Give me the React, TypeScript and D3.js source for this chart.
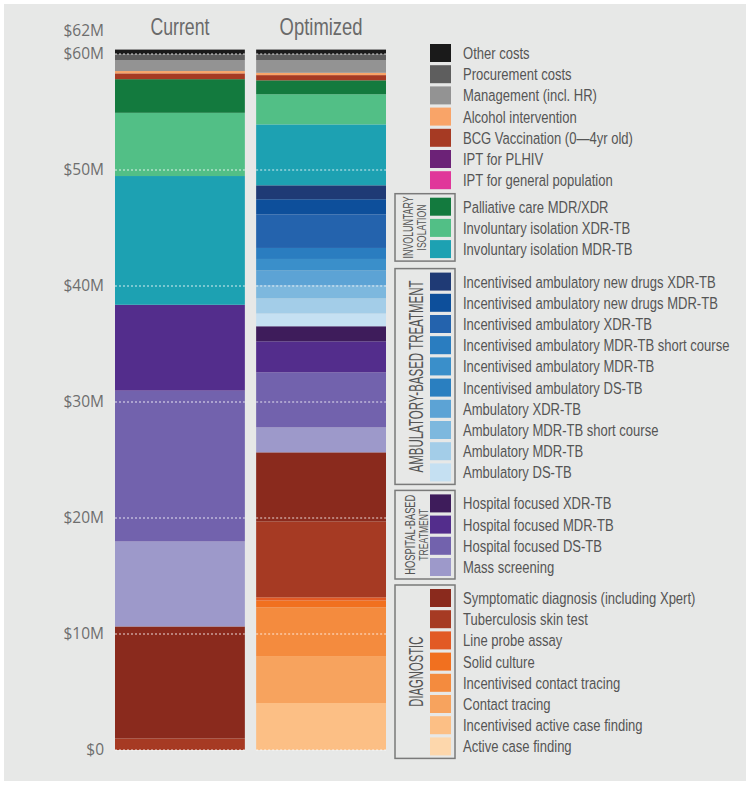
import React from "react";
import * as d3 from "d3";

// Stack order: bottom -> top
const categories = [
  "Active case finding",
  "Incentivised active case finding",
  "Contact tracing",
  "Incentivised contact tracing",
  "Solid culture",
  "Line probe assay",
  "Tuberculosis skin test",
  "Symptomatic diagnosis (including Xpert)",
  "Mass screening",
  "Hospital focused DS-TB",
  "Hospital focused MDR-TB",
  "Hospital focused XDR-TB",
  "Ambulatory DS-TB",
  "Ambulatory MDR-TB",
  "Ambulatory MDR-TB short course",
  "Ambulatory XDR-TB",
  "Incentivised ambulatory DS-TB",
  "Incentivised ambulatory MDR-TB",
  "Incentivised ambulatory MDR-TB short course",
  "Incentivised ambulatory XDR-TB",
  "Incentivised ambulatory new drugs MDR-TB",
  "Incentivised ambulatory new drugs XDR-TB",
  "Involuntary isolation MDR-TB",
  "Involuntary isolation XDR-TB",
  "Palliative care MDR/XDR",
  "IPT for general population",
  "IPT for PLHIV",
  "BCG Vaccination (0\u20144yr old)",
  "Alcohol intervention",
  "Management (incl. HR)",
  "Procurement costs",
  "Other costs",
];

const colors = [
  "#fdd7ac", "#fcbf85", "#f7a35e", "#f48b3e", "#f1701f", "#e25a25", "#a63a23", "#8a2a1d",
  "#9d99ca", "#7262ad", "#532d8c", "#3e1c5b",
  "#c5e0f2", "#a3cde8", "#7db8de", "#5ca3d5", "#2a7fc0", "#3a8fca", "#2a7dc0", "#2463ad", "#0d4f9b", "#1f3a75",
  "#1da1b2", "#52bf86", "#137a3e",
  "#e0379a", "#6c2277", "#a63a23", "#f9a468", "#939393", "#5e5e5e", "#1a1a1a",
];

// $ millions
const currentValues = [
  0, 0, 0, 0, 0, 0, 1.0, 9.65,
  7.33, 13.0, 7.4, 0,
  0, 0, 0, 0, 0, 0, 0, 0, 0, 0,
  11.1, 5.45, 2.9,
  0, 0, 0.5, 0.2, 0.95, 0.5, 0.4,
];
const optimizedValues = [
  0, 4.05, 4.05, 4.2, 0.6, 0.26, 6.55, 5.95,
  2.15, 4.75, 2.67, 1.3,
  1.1, 1.3, 1.1, 1.3, 0, 1.0, 0.95, 2.9, 1.3, 1.2,
  5.25, 2.6, 1.2,
  0, 0, 0.45, 0.2, 1.1, 0.5, 0.4,
];

const barNames = ["Current", "Optimized"];
const tickValues = [0, 10, 20, 30, 40, 50, 60, 62];
const gridValues = [0, 10, 20, 30, 40, 50, 60];

const groupLabels = [
  { lines: ["INVOLUNTARY", "ISOLATION"], top: 24, bottom: 22 },
  { lines: ["AMBULATORY-BASED TREATMENT"], top: 21, bottom: 12 },
  { lines: ["HOSPITAL-BASED", "TREATMENT"], top: 11, bottom: 8 },
  { lines: ["DIAGNOSTIC"], top: 7, bottom: 0 },
];

const FONT = "'Liberation Sans', Arial, sans-serif";

const groupLabelStyle = [
  [{ bx: 413, fs: 14, len: 62 }, { bx: 426, fs: 13, len: 46 }],
  [{ bx: 423, fs: 20, len: 192 }],
  [{ bx: 415, fs: 14, len: 80 }, { bx: 428, fs: 13, len: 52 }],
  [{ bx: 423, fs: 20, len: 70 }],
];

export default function App() {
  const W = 750, H = 785;
  const y = d3.scaleLinear().domain([0, 62]).range([750, 30.8]);
  const x = d3.scaleBand().domain(barNames).range([115, 386]).paddingInner(0.08).paddingOuter(0);

  const rows = barNames.map((b, bi) => {
    const r: any = { bar: b };
    categories.forEach((c, i) => (r[c] = bi === 0 ? currentValues[i] : optimizedValues[i]));
    return r;
  });
  const series = d3.stack().keys(categories)(rows);

  const legendOrder = categories.map((_, i) => i).reverse();
  const rowY: number[] = [];
  let cy = 53;
  const gapBefore: Record<number, number> = { 24: 26.5, 21: 32.5, 11: 31, 7: 31 };
  legendOrder.forEach((idx, k) => {
    if (k > 0) cy += gapBefore[idx] ?? 21.2;
    rowY[idx] = cy;
  });

  const titleLen: Record<string, number> = { Current: 59, Optimized: 83 };

  return (
    <div style={{ position: "absolute", left: 0, top: 0 }}>
      <svg width={W} height={H} style={{ display: "block" }}>
        <rect x={0} y={0} width={W} height={H} fill="#ffffff" />
        <rect x={4} y={4} width={742} height={777} fill="#e7e8e7" />
        {barNames.map((b) => (
          <text key={b} x={x(b)! + x.bandwidth() / 2} y={35} textAnchor="middle" fontFamily={FONT}
            fontSize={24} fill="#6a6a6a" textLength={titleLen[b]} lengthAdjust="spacingAndGlyphs">{b}</text>
        ))}
        {tickValues.map((t) => (
          <text key={t} x={104} y={y(t)} dy="0.35em" textAnchor="end" fontFamily="'Open Sans', sans-serif"
            fontSize={15.5} fill="#6e6e6e">{t === 0 ? "$0" : `$${t}M`}</text>
        ))}
        {series.map((s, si) => (
          <g key={si} fill={colors[si]}>
            {s.map((d, di) => {
              const h = y(d[0]) - y(d[1]);
              if (h <= 0) return null;
              return <rect key={di} x={x(barNames[di])} y={y(d[1])} width={x.bandwidth()} height={h} />;
            })}
          </g>
        ))}
        {barNames.map((b) =>
          gridValues.map((g) => (
            <line key={b + g} x1={x(b)} x2={x(b)! + x.bandwidth()} y1={y(g)} y2={y(g)}
              stroke="#ffffff" strokeOpacity={0.55} strokeWidth={1.5} strokeDasharray="2,2" />
          ))
        )}
        {legendOrder.map((idx) => (
          <g key={idx}>
            <rect x={430} y={rowY[idx] - 9} width={21} height={18} fill={colors[idx]} />
            <text transform={`translate(463,${rowY[idx]}) scale(0.79,1)`} dy="0.36em" fontFamily={FONT}
              fontSize={16.5} fill="#555555">
              {categories[idx]}
            </text>
          </g>
        ))}
        {groupLabels.map((g, gi) => {
          const top = rowY[g.top] - 13;
          const bottom = rowY[g.bottom] + 12;
          const cyy = (top + bottom) / 2;
          return (
            <g key={gi}>
              <rect x={395} y={top} width={60} height={bottom - top} fill="none" stroke="#7a7a7a" strokeWidth={1.5} />
              {g.lines.map((ln, li) => {
                const st = groupLabelStyle[gi][li];
                return (
                  <text key={li} transform={`translate(${st.bx},${cyy}) rotate(-90)`} textAnchor="middle"
                    fontFamily={FONT} fontSize={st.fs} fill="#555" textLength={st.len}
                    lengthAdjust="spacingAndGlyphs">{ln}</text>
                );
              })}
            </g>
          );
        })}
      </svg>
    </div>
  );
}
